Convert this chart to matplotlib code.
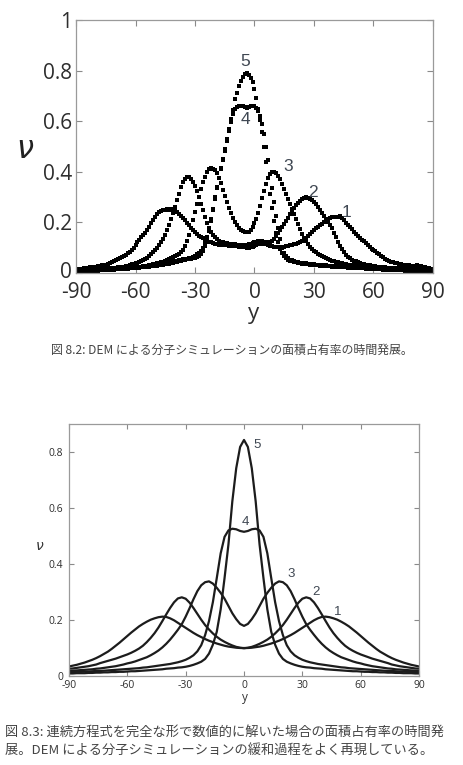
import numpy as np
import matplotlib
matplotlib.use('Agg')
import matplotlib.pyplot as plt
import matplotlib.transforms as mtransforms

# ---------------- data: DEM simulation (top), 1-degree grid ----------------
x_top = np.arange(-90, 91, 1)

dem_1 = [0.012,0.014,0.013,0.016,0.018,0.017,0.020,0.022,0.021,0.024,
         0.025,0.027,0.026,0.030,0.033,0.032,0.036,0.040,0.042,0.046,
         0.050,0.055,0.058,0.062,0.068,0.072,0.078,0.084,0.092,0.100,
         0.112,0.124,0.132,0.142,0.150,0.158,0.170,0.182,0.196,0.210,
         0.222,0.232,0.240,0.246,0.248,0.250,0.251,0.250,0.252,0.249,
         0.246,0.240,0.234,0.226,0.218,0.208,0.198,0.188,0.178,0.170,
         0.162,0.155,0.148,0.142,0.137,0.132,0.128,0.124,0.121,0.118,
         0.116,0.114,0.112,0.111,0.110,0.110,0.109,0.108,0.108,0.107,
         0.106,0.105,0.104,0.103,0.102,0.101,0.100,0.100,0.101,0.103,
         0.106,0.110,0.114,0.116,0.117,0.116,0.113,0.110,0.108,0.106,
         0.104,0.103,0.102,0.102,0.103,0.104,0.106,0.108,0.110,0.112,
         0.114,0.116,0.118,0.122,0.128,0.134,0.140,0.148,0.156,0.164,
         0.170,0.176,0.182,0.188,0.194,0.200,0.206,0.212,0.216,0.220,
         0.221,0.222,0.223,0.224,0.218,0.208,0.198,0.190,0.182,0.172,
         0.164,0.156,0.148,0.140,0.132,0.125,0.118,0.110,0.102,0.096,
         0.090,0.086,0.080,0.074,0.068,0.062,0.057,0.052,0.048,0.045,
         0.042,0.040,0.038,0.036,0.034,0.032,0.031,0.030,0.030,0.029,
         0.028,0.029,0.030,0.028,0.026,0.024,0.022,0.020,0.018,0.015,
         0.012]

dem_2 = [0.008,0.009,0.010,0.010,0.011,0.012,0.012,0.013,0.014,0.014,
         0.015,0.015,0.016,0.016,0.017,0.018,0.018,0.019,0.020,0.020,
         0.021,0.022,0.023,0.024,0.025,0.027,0.029,0.031,0.034,0.036,
         0.038,0.041,0.044,0.047,0.051,0.055,0.060,0.066,0.074,0.082,
         0.090,0.100,0.110,0.122,0.136,0.152,0.170,0.190,0.212,0.236,
         0.262,0.288,0.314,0.338,0.358,0.372,0.380,0.378,0.372,0.360,
         0.345,0.325,0.300,0.274,0.248,0.222,0.198,0.178,0.162,0.150,
         0.143,0.134,0.128,0.124,0.121,0.119,0.117,0.116,0.115,0.114,
         0.113,0.112,0.112,0.111,0.111,0.111,0.112,0.113,0.115,0.118,
         0.121,0.124,0.126,0.127,0.126,0.124,0.122,0.121,0.122,0.126,
         0.134,0.146,0.158,0.170,0.182,0.194,0.206,0.218,0.232,0.246,
         0.258,0.268,0.277,0.285,0.292,0.297,0.300,0.298,0.294,0.288,
         0.280,0.271,0.261,0.250,0.238,0.226,0.214,0.202,0.190,0.176,
         0.160,0.142,0.124,0.108,0.094,0.082,0.072,0.064,0.058,0.053,
         0.049,0.046,0.043,0.040,0.037,0.035,0.033,0.031,0.030,0.028,
         0.027,0.026,0.025,0.024,0.023,0.022,0.022,0.021,0.020,0.020,
         0.019,0.019,0.018,0.018,0.017,0.017,0.016,0.016,0.016,0.015,
         0.015,0.016,0.018,0.020,0.021,0.019,0.017,0.014,0.012,0.010,
         0.008]

dem_3 = [0.006,0.007,0.007,0.008,0.008,0.009,0.009,0.010,0.010,0.011,
         0.011,0.012,0.012,0.013,0.013,0.014,0.014,0.015,0.015,0.016,
         0.016,0.017,0.017,0.018,0.018,0.019,0.020,0.020,0.021,0.022,
         0.022,0.023,0.024,0.025,0.026,0.027,0.028,0.030,0.032,0.034,
         0.036,0.038,0.040,0.042,0.044,0.046,0.050,0.054,0.058,0.062,
         0.066,0.070,0.075,0.082,0.092,0.106,0.126,0.150,0.178,0.208,
         0.240,0.272,0.302,0.332,0.358,0.380,0.398,0.410,0.414,0.412,
         0.406,0.394,0.376,0.354,0.330,0.306,0.282,0.258,0.236,0.216,
         0.200,0.188,0.178,0.171,0.166,0.163,0.162,0.164,0.170,0.180,
         0.196,0.214,0.238,0.266,0.296,0.326,0.352,0.374,0.390,0.400,
         0.400,0.394,0.384,0.370,0.352,0.332,0.312,0.292,0.272,0.252,
         0.232,0.212,0.192,0.174,0.156,0.140,0.126,0.114,0.104,0.096,
         0.088,0.082,0.076,0.071,0.066,0.062,0.058,0.055,0.052,0.049,
         0.046,0.044,0.042,0.040,0.038,0.036,0.035,0.033,0.032,0.031,
         0.030,0.029,0.028,0.027,0.026,0.025,0.024,0.023,0.022,0.022,
         0.021,0.020,0.020,0.019,0.019,0.018,0.018,0.017,0.017,0.016,
         0.016,0.015,0.015,0.014,0.014,0.013,0.013,0.012,0.012,0.011,
         0.011,0.010,0.010,0.009,0.009,0.008,0.008,0.007,0.007,0.006,
         0.006]

dem_4 = [0.005,0.006,0.006,0.007,0.007,0.008,0.008,0.009,0.009,0.010,
         0.010,0.010,0.011,0.011,0.012,0.012,0.013,0.013,0.014,0.014,
         0.015,0.015,0.016,0.016,0.017,0.018,0.018,0.019,0.020,0.020,
         0.021,0.022,0.022,0.023,0.024,0.025,0.026,0.027,0.028,0.029,
         0.030,0.031,0.032,0.034,0.035,0.036,0.038,0.040,0.042,0.044,
         0.046,0.048,0.050,0.052,0.054,0.055,0.056,0.057,0.057,0.058,
         0.058,0.062,0.068,0.076,0.088,0.106,0.132,0.166,0.206,0.250,
         0.300,0.340,0.376,0.412,0.448,0.484,0.522,0.560,0.596,0.628,
         0.650,0.656,0.660,0.662,0.660,0.656,0.654,0.656,0.660,0.662,
         0.660,0.654,0.642,0.620,0.588,0.548,0.500,0.446,0.390,0.334,
         0.280,0.226,0.176,0.134,0.100,0.078,0.066,0.058,0.053,0.050,
         0.047,0.045,0.043,0.041,0.040,0.039,0.038,0.037,0.036,0.035,
         0.034,0.033,0.032,0.032,0.031,0.030,0.030,0.029,0.028,0.028,
         0.028,0.027,0.027,0.026,0.026,0.025,0.025,0.024,0.024,0.023,
         0.023,0.022,0.022,0.021,0.021,0.020,0.020,0.019,0.019,0.018,
         0.018,0.017,0.017,0.016,0.016,0.015,0.015,0.014,0.014,0.013,
         0.013,0.012,0.012,0.012,0.011,0.011,0.010,0.010,0.010,0.009,
         0.009,0.009,0.008,0.008,0.008,0.007,0.007,0.007,0.006,0.006,
         0.006]

dem_5 = [0.004,0.005,0.005,0.006,0.006,0.007,0.007,0.008,0.008,0.009,
         0.009,0.009,0.010,0.010,0.011,0.011,0.012,0.012,0.013,0.013,
         0.014,0.014,0.015,0.015,0.016,0.016,0.017,0.018,0.018,0.019,
         0.020,0.020,0.021,0.022,0.023,0.023,0.024,0.025,0.026,0.027,
         0.028,0.029,0.030,0.031,0.032,0.034,0.035,0.036,0.038,0.040,
         0.042,0.044,0.046,0.048,0.050,0.052,0.055,0.058,0.061,0.065,
         0.069,0.074,0.080,0.088,0.100,0.118,0.144,0.176,0.212,0.252,
         0.294,0.336,0.376,0.414,0.452,0.490,0.530,0.570,0.608,0.646,
         0.686,0.712,0.738,0.758,0.774,0.786,0.790,0.784,0.772,0.754,
         0.726,0.692,0.650,0.604,0.556,0.500,0.440,0.376,0.314,0.256,
         0.204,0.160,0.124,0.096,0.078,0.066,0.058,0.053,0.049,0.046,
         0.044,0.042,0.040,0.039,0.037,0.036,0.035,0.034,0.033,0.032,
         0.031,0.030,0.030,0.029,0.028,0.028,0.027,0.026,0.026,0.025,
         0.025,0.024,0.024,0.023,0.023,0.022,0.022,0.021,0.021,0.020,
         0.020,0.019,0.019,0.018,0.018,0.018,0.017,0.017,0.016,0.016,
         0.015,0.015,0.015,0.014,0.014,0.013,0.013,0.013,0.012,0.012,
         0.011,0.011,0.011,0.010,0.010,0.010,0.009,0.009,0.009,0.008,
         0.008,0.008,0.007,0.007,0.007,0.006,0.006,0.006,0.005,0.005,
         0.005]

# ---------------- data: continuum solution (bottom), 2-degree grid ----------------
x_bot = np.arange(-90, 91, 2)

cont_1 = [0.034,0.037,0.040,0.044,0.048,0.053,0.058,0.064,0.071,0.079,
          0.087,0.097,0.108,0.119,0.131,0.143,0.155,0.166,0.177,0.186,
          0.194,0.201,0.206,0.210,0.212,0.211,0.206,0.199,0.190,0.181,
          0.172,0.163,0.154,0.146,0.139,0.132,0.126,0.121,0.116,0.112,
          0.108,0.105,0.103,0.101,0.100,0.100,
          0.100,0.101,0.103,0.105,0.108,0.112,0.116,0.121,0.126,0.132,
          0.139,0.146,0.154,0.163,0.172,0.181,0.190,0.199,0.206,0.211,
          0.212,0.210,0.206,0.201,0.194,0.186,0.177,0.166,0.155,0.143,
          0.131,0.119,0.108,0.097,0.087,0.079,0.071,0.064,0.058,0.053,
          0.048,0.044,0.040,0.037,0.034]

cont_2 = [0.026,0.027,0.029,0.031,0.033,0.035,0.038,0.041,0.046,0.050,
          0.054,0.058,0.062,0.067,0.072,0.077,0.083,0.090,0.098,0.108,
          0.121,0.136,0.153,0.173,0.196,0.220,0.243,0.263,0.277,0.281,
          0.276,0.262,0.243,0.222,0.201,0.182,0.166,0.152,0.140,0.130,
          0.122,0.115,0.109,0.104,0.101,0.099,
          0.101,0.104,0.109,0.115,0.122,0.130,0.140,0.152,0.166,0.182,
          0.201,0.222,0.243,0.262,0.276,0.281,0.277,0.263,0.243,0.220,
          0.196,0.173,0.153,0.136,0.121,0.108,0.098,0.090,0.083,0.077,
          0.072,0.067,0.062,0.058,0.054,0.050,0.046,0.041,0.038,0.035,
          0.033,0.031,0.029,0.027,0.026]

cont_3 = [0.018,0.019,0.020,0.021,0.022,0.023,0.024,0.026,0.027,0.029,
          0.031,0.033,0.035,0.038,0.041,0.045,0.048,0.052,0.057,0.062,
          0.067,0.074,0.082,0.091,0.102,0.115,0.130,0.147,0.165,0.185,
          0.212,0.242,0.274,0.303,0.324,0.335,0.338,0.330,0.315,0.297,
          0.276,0.250,0.224,0.203,0.186,0.179,
          0.186,0.203,0.224,0.250,0.276,0.297,0.315,0.330,0.338,0.335,
          0.324,0.303,0.274,0.242,0.212,0.185,0.165,0.147,0.130,0.115,
          0.102,0.091,0.082,0.074,0.067,0.062,0.057,0.052,0.048,0.045,
          0.041,0.038,0.035,0.033,0.031,0.029,0.027,0.026,0.024,0.023,
          0.022,0.021,0.020,0.019,0.018]

cont_4 = [0.014,0.014,0.015,0.015,0.016,0.016,0.017,0.018,0.018,0.019,
          0.020,0.021,0.022,0.023,0.024,0.025,0.026,0.027,0.028,0.030,
          0.031,0.033,0.035,0.037,0.039,0.041,0.043,0.046,0.049,0.053,
          0.058,0.065,0.074,0.088,0.110,0.146,0.196,0.264,0.350,0.438,
          0.497,0.520,0.526,0.524,0.518,0.515,
          0.518,0.524,0.526,0.520,0.497,0.438,0.350,0.264,0.196,0.146,
          0.110,0.088,0.074,0.065,0.058,0.053,0.049,0.046,0.043,0.041,
          0.039,0.037,0.035,0.033,0.031,0.030,0.028,0.027,0.026,0.025,
          0.024,0.023,0.022,0.021,0.020,0.019,0.018,0.018,0.017,0.016,
          0.016,0.015,0.015,0.014,0.014]

cont_5 = [0.009,0.009,0.010,0.010,0.010,0.011,0.011,0.012,0.012,0.013,
          0.013,0.014,0.014,0.015,0.015,0.016,0.017,0.017,0.018,0.019,
          0.020,0.021,0.022,0.023,0.024,0.026,0.027,0.028,0.030,0.031,
          0.033,0.036,0.040,0.045,0.051,0.061,0.080,0.112,0.158,0.238,
          0.350,0.470,0.624,0.742,0.818,0.843,
          0.818,0.742,0.624,0.470,0.350,0.238,0.158,0.112,0.080,0.061,
          0.051,0.045,0.040,0.036,0.033,0.031,0.030,0.028,0.027,0.026,
          0.024,0.023,0.022,0.021,0.020,0.019,0.018,0.017,0.017,0.016,
          0.015,0.015,0.014,0.014,0.013,0.013,0.012,0.012,0.011,0.011,
          0.010,0.010,0.010,0.009,0.009]

curve_names = ['1', '2', '3', '4', '5']
top_label_pos = [(46.5, 0.24), (29.7, 0.32), (17.0, 0.42), (-4.8, 0.605), (-4.8, 0.835)]
bot_label_pos = [(48.4, 0.23), (37.0, 0.30), (24.2, 0.364), (0.5, 0.55), (6.7, 0.825)]

x_ticks = [-90, -60, -30, 0, 30, 60, 90]
top_yticks = [0, 0.2, 0.4, 0.6, 0.8, 1.0]
top_yticklabels = ['0', '0.2', '0.4', '0.6', '0.8', '1']
bot_yticks = [0, 0.2, 0.4, 0.6, 0.8]
bot_yticklabels = ['0', '0.2', '0.4', '0.6', '0.8']

caption_top = '図 8.2: DEM による分子シミュレーションの面積占有率の時間発展。'
caption_bot_1 = '図 8.3: 連続方程式を完全な形で数値的に解いた場合の面積占有率の時間発'
caption_bot_2 = '展。DEM による分子シミュレーションの緩和過程をよく再現している。'

# ---------------- drawing ----------------
W, H = 464, 765
fig = plt.figure(figsize=(W / 100, H / 100), dpi=100)
fig.patch.set_facecolor('white')

tick_font = ['Open Sans', 'DejaVu Sans']
narrow_font = ['Liberation Sans Narrow', 'Liberation Sans', 'DejaVu Sans']
cjk_font = ['Noto Sans CJK JP', 'DejaVu Sans']

def style_axes(ax, labelsize, ticklen, xpad, ypad):
    ax.tick_params(direction='in', top=True, right=True, length=ticklen,
                   width=0.8, color='#8a8a8a', labelsize=labelsize,
                   labelcolor='#2e2e2e')
    ax.tick_params(axis='x', pad=xpad)
    ax.tick_params(axis='y', pad=ypad)
    for s in ax.spines.values():
        s.set_color('#9a9a9a')
        s.set_linewidth(0.9)
    for lab in ax.get_xticklabels() + ax.get_yticklabels():
        lab.set_family(tick_font)

def lift_first_ylabel(ax, points):
    lab = ax.get_yticklabels()[0]
    lab.set_transform(lab.get_transform() +
                      mtransforms.ScaledTranslation(0, points / 72, fig.dpi_scale_trans))

# top panel
ax1 = fig.add_axes([76 / W, 1 - 273 / H, 357 / W, 253 / H])
for ys in [dem_1, dem_2, dem_3, dem_4, dem_5]:
    ax1.plot(x_top, ys, ls='none', marker='s', ms=3.3, mew=0, color='black')
ax1.set_xlim(-90, 90)
ax1.set_ylim(0, 1)
ax1.set_xticks(x_ticks)
ax1.set_xticklabels([str(v) for v in x_ticks])
ax1.set_yticks(top_yticks)
ax1.set_yticklabels(top_yticklabels)
style_axes(ax1, 15, 4, 6.5, 3)
lift_first_ylabel(ax1, 2.5)
for name, (lx, ly) in zip(curve_names, top_label_pos):
    ax1.text(lx, ly, name, fontsize=12.5, family=narrow_font, color='#3f4752',
             ha='center', va='center')
fig.text(25 / W, 1 - 150 / H, r'$\nu$', fontsize=22, color='#222222',
         ha='center', va='center')
fig.text(254 / W, 1 - 313 / H, 'y', fontsize=16, family=tick_font,
         color='#2e2e2e', ha='center', va='center')
fig.text(232 / W, 1 - 350 / H, caption_top, fontsize=8.6, family=cjk_font,
         color='#444444', ha='center', va='center')

# bottom panel
ax2 = fig.add_axes([69 / W, 1 - 676 / H, 350 / W, 252 / H])
for ys in [cont_1, cont_2, cont_3, cont_4, cont_5]:
    ax2.plot(x_bot, ys, lw=1.6, color='#1c1c1c', solid_joinstyle='round')
ax2.set_xlim(-90, 90)
ax2.set_ylim(0, 0.9)
ax2.set_xticks(x_ticks)
ax2.set_xticklabels([str(v) for v in x_ticks])
ax2.set_yticks(bot_yticks)
ax2.set_yticklabels(bot_yticklabels)
style_axes(ax2, 7.5, 3.5, 3, 4)
for name, (lx, ly) in zip(curve_names, bot_label_pos):
    ax2.text(lx, ly, name, fontsize=9.5, family=narrow_font, color='#3f4752',
             ha='center', va='center')
fig.text(40 / W, 1 - 546 / H, r'$\nu$', fontsize=10, color='#333333',
         ha='center', va='center')
fig.text(245 / W, 1 - 697 / H, 'y', fontsize=8.5, family=tick_font,
         color='#333333', ha='center', va='center')
fig.text(5 / W, 1 - 732 / H, caption_bot_1, fontsize=9.5, family=cjk_font,
         color='#444444', ha='left', va='center')
fig.text(5 / W, 1 - 750 / H, caption_bot_2, fontsize=9.5, family=cjk_font,
         color='#444444', ha='left', va='center')

fig.savefig('out.png', dpi=100, facecolor='white')
